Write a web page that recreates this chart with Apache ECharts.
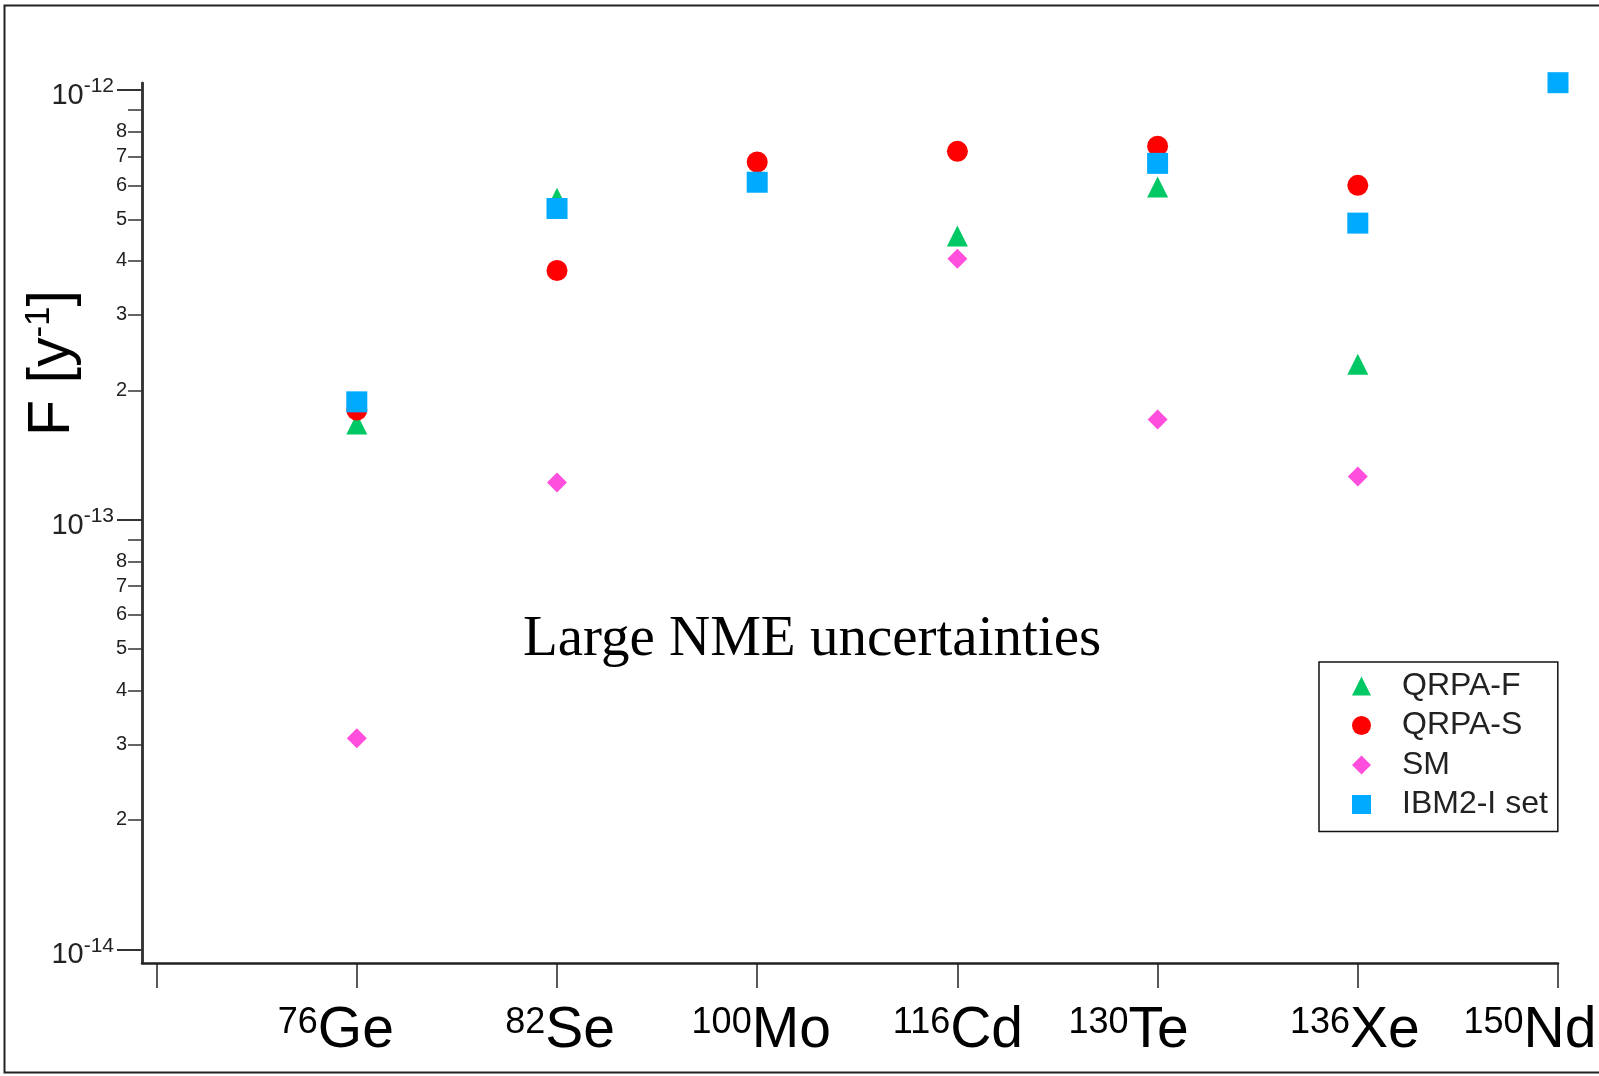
<!DOCTYPE html>
<html>
<head>
<meta charset="utf-8">
<script src="https://cdn.jsdelivr.net/npm/echarts@6/dist/echarts.min.js"></script>
<style>
html,body{margin:0;padding:0;background:#fff;}
#chart{width:1599px;height:1076px;}
</style>
</head>
<body>
<div id="chart"></div>
<script>
// ---- data ----
const massNumbers = ['76', '82', '100', '116', '130', '136', '150'];
const elements = ['Ge', 'Se', 'Mo', 'Cd', 'Te', 'Xe', 'Nd'];
const seriesNames = ['QRPA-F', 'QRPA-S', 'SM', 'IBM2-I set'];
const qrpaF = [1.67e-13, 5.6e-13, null, 4.57e-13, 5.95e-13, 2.3e-13, null];
const qrpaS = [1.8e-13, 3.8e-13, 6.8e-13, 7.2e-13, 7.4e-13, 6.0e-13, null];
const sm    = [3.1e-14, 1.22e-13, null, 4.05e-13, 1.71e-13, 1.26e-13, null];
const ibm2  = [1.88e-13, 5.3e-13, 6.1e-13, null, 6.75e-13, 4.9e-13, 1.04e-12];
const yMajorTicks = [1e-14, 1e-13, 1e-12];
const yMajorExponents = ['-14', '-13', '-12'];
const yMinorTicks = [2e-14, 3e-14, 4e-14, 5e-14, 6e-14, 7e-14, 8e-14, 9e-14,
                     2e-13, 3e-13, 4e-13, 5e-13, 6e-13, 7e-13, 8e-13, 9e-13];
const yMinorLabels = ['2', '3', '4', '5', '6', '7', '8', '',
                      '2', '3', '4', '5', '6', '7', '8', ''];
const xTickValues = [0, 1, 2, 3, 4, 5, 6, 7];
const xLabelValues = [1, 2, 3, 4, 5, 6, 7];
const yMin = 9.29e-15, yMax = 1.0383e-12;
const xMin = -0.073, xMax = 7;

// layout: horizontal nudge (px) of each x label relative to its tick
const xLabelShift = [-21, 3, 4, 0, -29, -3, -28];

function toPoints(arr) {
  const out = [];
  arr.forEach((v, i) => { if (v != null) out.push([i + 1, v]); });
  return out;
}
function nearestIndex(list, v) {
  let best = 0, bd = Infinity;
  list.forEach((t, i) => { const d = Math.abs(Math.log10(t) - Math.log10(v)); if (d < bd) { bd = d; best = i; } });
  return best;
}

const FONT = '"Liberation Sans", Arial, Helvetica, sans-serif';
const xRich = {
  sup: {fontSize: 36, lineHeight: 36, verticalAlign: 'top', fontFamily: FONT, color: '#000', padding: [2, 0, 0, 0]},
  el: {fontSize: 57, lineHeight: 57, fontFamily: FONT, color: '#000'}
};
xLabelShift.forEach((s, i) => {
  xRich['pad' + i] = {width: Math.max(1, Math.abs(s) * 2), fontSize: 10, lineHeight: 10};
});

const chart = echarts.init(document.getElementById('chart'), null, {renderer: 'canvas'});

const option = {
  animation: false,
  backgroundColor: '#fff',
  grid: {left: 142, right: 41, top: 83, bottom: 113, containLabel: false, outerBoundsMode: 'none'},
  xAxis: {
    type: 'value', min: xMin, max: xMax,
    axisLine: {show: true, onZero: false, lineStyle: {color: '#222', width: 2.5}},
    axisTick: {show: true, length: 25, inside: false, lineStyle: {color: '#222', width: 1.5}, customValues: xTickValues},
    splitLine: {show: false},
    axisLabel: {
      customValues: xLabelValues,
      margin: 40,
      hideOverlap: false,
      formatter: function (v) {
        const i = Math.round(v) - 1;
        const core = '{sup|' + massNumbers[i] + '}{el|' + elements[i] + '}';
        const pad = '{pad' + i + '| }';
        return xLabelShift[i] < 0 ? core + pad : pad + core;
      },
      rich: xRich
    }
  },
  yAxis: [
    {
      type: 'log', min: yMin, max: yMax, position: 'left', offset: 0,
      axisLine: {show: true, onZero: false, lineStyle: {color: '#333', width: 2.5}},
      axisTick: {show: true, length: 14, inside: false, lineStyle: {color: '#333', width: 1.5}, customValues: yMinorTicks},
      splitLine: {show: false}, minorTick: {show: false},
      axisLabel: {
        customValues: yMinorTicks,
        margin: 15,
        fontSize: 20, fontFamily: FONT, color: '#222',
        formatter: function (v) { return yMinorLabels[nearestIndex(yMinorTicks, v)]; }
      }
    },
    {
      type: 'log', min: yMin, max: yMax, position: 'left', offset: 0,
      name: '{f|F [y}{s|-1}{f|]}',
      nameLocation: 'middle', nameGap: 58, nameRotate: 90, nameMoveOverlap: false,
      nameTextStyle: {
        padding: [0, 0, 0, 320],
        rich: {
          f: {fontSize: 59, lineHeight: 62, fontFamily: FONT, color: '#000'},
          s: {fontSize: 35, lineHeight: 35, verticalAlign: 'top', fontFamily: FONT, color: '#000'}
        }
      },
      axisLine: {show: true, onZero: false, lineStyle: {color: '#333', width: 2.5}},
      axisTick: {show: true, length: 25, inside: false, lineStyle: {color: '#333', width: 2}, customValues: yMajorTicks},
      splitLine: {show: false}, minorTick: {show: false},
      axisLabel: {
        customValues: yMajorTicks,
        margin: 28,
        formatter: function (v) {
          return '{b|10}{e|' + yMajorExponents[nearestIndex(yMajorTicks, v)] + '}';
        },
        rich: {
          b: {fontSize: 29, lineHeight: 28, padding: [12, 0, 0, 0], fontFamily: FONT, color: '#222'},
          e: {fontSize: 21, lineHeight: 20, verticalAlign: 'top', fontFamily: FONT, color: '#222'}
        }
      }
    }
  ],
  legend: {
    orient: 'vertical', left: 1319, top: 662,
    padding: [8, 10, 11, 33],
    itemWidth: 19, itemHeight: 19, itemGap: 7.5,
    borderColor: '#111', borderWidth: 1.5, backgroundColor: '#fff',
    textStyle: {fontSize: 32, lineHeight: 32, fontFamily: FONT, color: '#222', padding: [0, 0, 0, 26]},
    data: seriesNames
  },
  series: [
    {name: seriesNames[0], type: 'scatter', clip: false, symbol: 'triangle', symbolSize: 21, itemStyle: {color: '#00c864', opacity: 1}, data: toPoints(qrpaF)},
    {name: seriesNames[1], type: 'scatter', clip: false, symbol: 'circle', symbolSize: 21, itemStyle: {color: '#ff0000', opacity: 1}, data: toPoints(qrpaS)},
    {name: seriesNames[2], type: 'scatter', clip: false, symbol: 'diamond', symbolSize: 20, itemStyle: {color: '#ff4fdc', opacity: 1}, data: toPoints(sm)},
    {name: seriesNames[3], type: 'scatter', clip: false, symbol: 'rect', symbolSize: 21, itemStyle: {color: '#00aaff', opacity: 1}, data: toPoints(ibm2)}
  ],
  graphic: [
    {type: 'rect', silent: true, z: -1, shape: {x: 4.5, y: 5.5, width: 1700, height: 1067}, style: {fill: null, stroke: '#222', lineWidth: 2}},
    {type: 'text', silent: true, x: 812, y: 640,
     style: {text: 'Large NME uncertainties', align: 'center', verticalAlign: 'middle', fontSize: 57, fontFamily: '"Liberation Serif", "Times New Roman", serif', fill: '#000'}}
  ]
};
chart.setOption(option);
</script>
</body>
</html>
